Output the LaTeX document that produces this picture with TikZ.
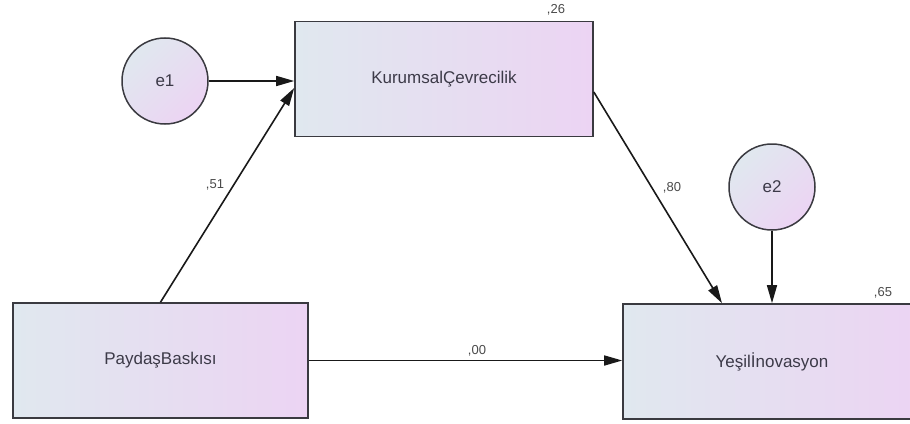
\documentclass[tikz,border=0pt]{standalone}
\usepackage{fontspec}
\setmainfont{Liberation Sans}
\usetikzlibrary{arrows.meta,calc}
\definecolor{shadeL}{HTML}{E0E8EF}
\definecolor{shadeM}{HTML}{E8DFF1}
\definecolor{shadeR}{HTML}{ECD4F3}
\definecolor{edgegray}{HTML}{3A3A40}
\definecolor{textgray}{HTML}{3C3A48}
\definecolor{labelgray}{HTML}{4A4A4A}
\tikzset{
  varbox/.style={rectangle, draw=edgegray, line width=1.6pt,
    left color=shadeL, middle color=shadeM, right color=shadeR,
    minimum width=298pt, minimum height=115pt, inner sep=0pt,
    text=textgray, font=\fontsize{17}{20}\selectfont},
  errcirc/.style={circle, draw=edgegray, line width=1.5pt,
    top color=shadeL, middle color=shadeM, bottom color=shadeR, shading angle=45,
    minimum size=86pt, inner sep=0pt,
    text=textgray, font=\fontsize{17}{20}\selectfont},
  path/.style={draw=black!90, line width=1.6pt,
    -{Triangle[length=18pt,width=10pt]}},
  coef/.style={text=labelgray, font=\fontsize{13}{15}\selectfont, inner sep=0pt}
}
\begin{document}
\begin{tikzpicture}[x=1pt,y=-1pt]
  \useasboundingbox (0,0) rectangle (910,423);
  \clip (0,0) rectangle (910,423);

  % variables
  \node[varbox] (kc) at (444,79) {KurumsalÇevrecilik};
  \node[varbox, minimum width=295pt] (pb) at (160.5,360.5) {PaydaşBaskısı};
  \node[varbox] (yi) at (772,361.5) {Yeşilİnovasyon};

  % error terms
  \node[errcirc] (e1) at (165,81) {e1};
  \node[errcirc] (e2) at (772,187) {e2};

  % paths
  \draw[path] (e1.east) -- (e1 -| kc.west);
  \draw[path] (pb.north) -- ($(kc.west)+(0,9)$);
  \draw[path] ($(kc.east)+(0,13)$) -- ($(yi.north)+(-50,0)$);
  \draw[path] (e2.south) -- (yi.north);
  \draw[path] (pb.east) -- (pb.east -| yi.west);

  % coefficients
  \node[coef] (r26) at (556,10) {,26};
  \node[coef] (c51) at (215,185) {,51};
  \node[coef] (c80) at (672,188) {,80};
  \node[coef] (r65) at (883,293) {,65};
  \node[coef] (c00) at (477,351) {,00};
\end{tikzpicture}
\end{document}
